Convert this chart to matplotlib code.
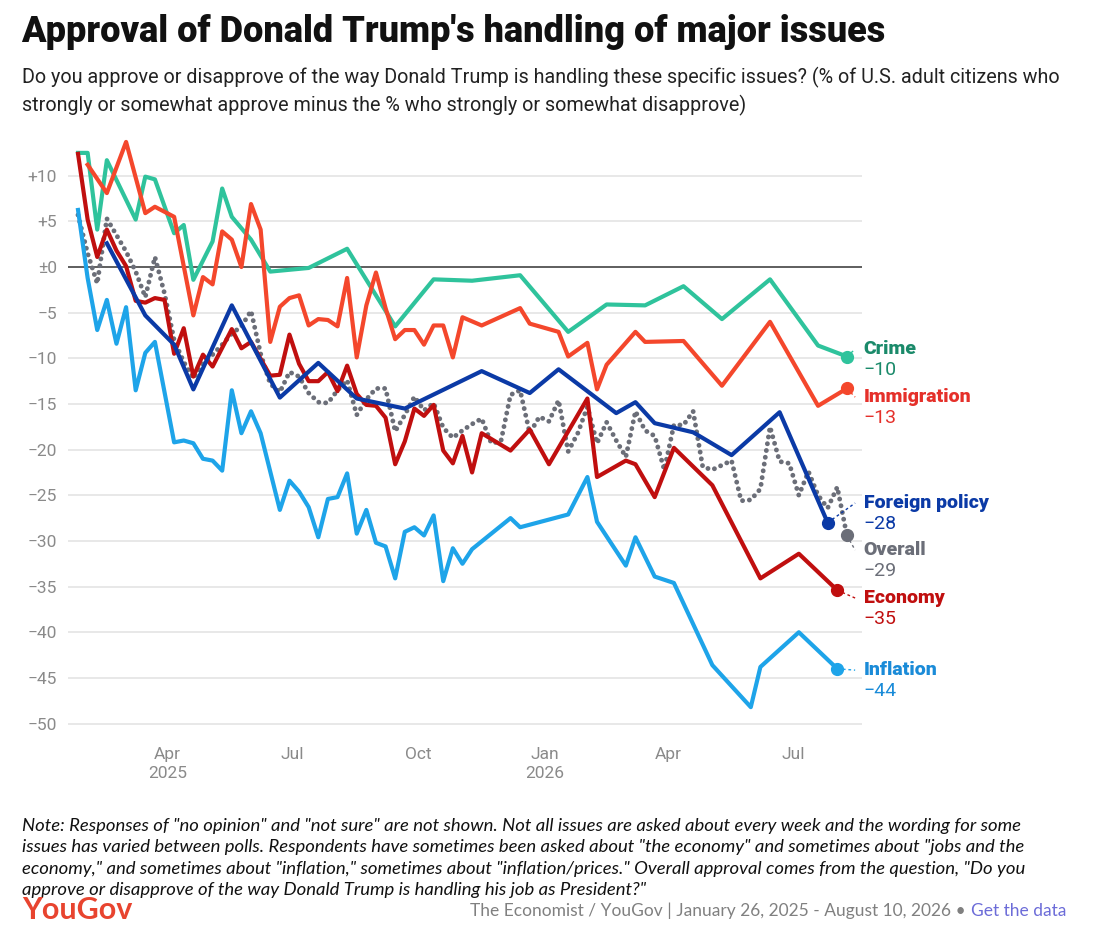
import numpy as np
import pandas as pd
import matplotlib
matplotlib.use("Agg")
import matplotlib.pyplot as plt
import matplotlib.transforms as mtransforms

plt.rcParams['font.family'] = ['Roboto', 'DejaVu Sans']

# weekly polls, week 0 = Jan 26 2025 (None = issue not asked that week)
start = "2025-01-26"
n_weeks = 81

crime = [12.5, 12.5, 4.1, 11.7, None, None, 5.2, 9.9, 9.6, None,
         3.7, 4.6, -1.4, None, 2.8, 8.6, 5.5, None, 3.0, None,
         -0.5, None, None, None, -0.1, None, None, None, 2.0, None,
         None, None, None, -6.5, None, None, None, -1.35, None, None,
         None, -1.5, None, None, None, None, -0.9, None, None, None,
         None, -7.1, None, None, None, -4.1, None, None, None, -4.2,
         None, None, None, -2.1, None, None, None, -5.7, None, None,
         None, None, -1.35, None, None, None, None, -8.6, None, None,
         -9.8]

immigration = [None, 11.2, None, 8.1, None, 13.7, None, 5.9, 6.6, None,
               5.5, None, -5.3, -1.1, -1.9, 3.9, 3.0, 0.0, 6.9, 4.1,
               -8.2, -4.35, -3.4, -3.1, -6.4, -5.7, -5.8, -6.5, -1.2, -9.9,
               -4.2, -0.6, -4.5, -7.9, -6.9, -6.9, -8.5, -6.4, -6.4, -9.9,
               -5.5, None, -6.4, None, None, None, -4.5, -6.2, None, None,
               -7.1, -9.8, None, -8.3, -13.4, -10.7, None, None, -7.1, -8.2,
               None, None, None, -8.1, None, None, None, -13.0, None, None,
               None, None, -6.0, None, None, None, None, -15.2, None, None,
               -13.3]

foreign_policy = [None, None, None, 2.6, None, None, None, -5.3, None, None,
                  -8.5, None, -13.4, None, None, None, -4.2, None, None, None,
                  None, -14.3, None, None, None, -10.5, None, None, None, -14.4,
                  None, None, None, None, -15.5, None, None, None, None, None,
                  None, None, -11.4, None, None, None, None, -13.8, None, None,
                  -11.2, None, None, None, None, None, -16.0, None, -14.8, None,
                  -17.1, None, None, None, -18.1, None, None, None, -20.6, None,
                  None, None, None, -15.9, None, None, None, None, -28.0, None,
                  None]

overall = [5.7, 1.5, -1.8, 5.3, 3.5, 1.7, -0.5, -3.3, 1.1, -2.9,
           -8.0, -10.4, -12.2, -10.6, -9.6, -8.5, -7.3, -6.5, -4.8, -9.5,
           -12.8, -13.7, -11.5, -12.0, -13.8, -14.8, -14.9, -13.5, -12.4, -16.2,
           -14.5, -13.3, -13.3, -18.0, -16.2, -14.2, -15.7, -14.9, -17.6, -18.7,
           -17.9, -17.2, -16.6, -19.3, -19.1, -14.0, -13.5, -18.2, -16.4, -16.9,
           -14.6, -20.2, -18.2, -15.3, -19.3, -17.0, -19.0, -20.8, -15.8, -17.9,
           -18.5, -22.2, -17.3, -17.3, -15.8, -21.9, -22.2, -21.7, -21.2, -25.6,
           -25.5, -24.3, -17.5, -21.3, -21.5, -25.0, -22.4, -25.0, -26.4, -24.1,
           -29.4]

economy = [12.4, 5.2, 1.1, 4.1, 1.8, 0.1, -3.7, -3.9, -3.4, -3.6,
           -9.5, -6.7, -12.0, -9.6, -10.9, None, -6.8, -8.9, -8.2, None,
           -11.9, -11.8, -7.4, -10.6, -12.5, -12.5, -11.5, -13.6, -10.8, -13.9,
           -15.1, -15.2, -16.5, -21.6, -19.1, -15.5, -16.3, -15.1, -20.1, -21.5,
           -18.5, -22.5, -18.2, None, None, -20.1, None, -17.8, None, -21.6,
           None, None, None, -14.4, -23.0, None, None, -21.2, -21.6, None,
           -25.2, None, -19.8, None, None, None, -23.9, None, None, None,
           None, -34.1, None, None, None, -31.4, None, None, None, -35.4,
           None]

inflation = [6.25, -1.2, -6.9, -3.6, -8.4, -4.4, -13.5, -9.4, -8.2, None,
             -19.2, -19.0, -19.3, -21.0, -21.2, -22.3, -13.5, -18.2, -15.8, -18.2,
             None, -26.6, -23.4, -24.6, -26.3, -29.6, -25.4, -25.2, -22.6, -29.2,
             -26.6, -30.2, -30.6, -34.1, -29.0, -28.5, -29.4, -27.2, -34.4, -30.8,
             -32.5, -30.9, None, None, None, -27.5, -28.5, None, None, None,
             None, -27.1, None, -23.0, -27.9, None, None, -32.7, -29.6, None,
             -33.9, None, -34.6, None, None, None, -43.6, None, None, None,
             -48.2, -43.8, None, None, None, -40.0, None, None, None, -44.0,
             None]

series_names = ["Crime", "Immigration", "Foreign policy", "Overall", "Economy", "Inflation"]
series_values = [crime, immigration, foreign_policy, overall, economy, inflation]
line_colors = ["#2fc39c", "#f4472c", "#0b3aa6", "#6b6e78", "#c00f0f", "#1ea4e9"]
label_colors = ["#1a8a6a", "#e5302a", "#0b3aa6", "#6b6e78", "#c00f0f", "#1a8bd8"]
label_y = [-9.0, -14.25, -25.85, -31.0, -36.25, -44.15]
draw_order = [3, 5, 0, 1, 4, 2]

tick_dates = ["2025-04-01", "2025-07-01", "2025-10-01", "2026-01-01", "2026-04-01", "2026-07-01"]
tick_labels = ["Apr\n2025", "Jul", "Oct", "Jan\n2026", "Apr", "Jul"]
y_ticks = [10, 5, 0, -5, -10, -15, -20, -25, -30, -35, -40, -45, -50]

title = "Approval of Donald Trump's handling of major issues"
subtitle = ("Do you approve or disapprove of the way Donald Trump is handling these specific issues? (% of U.S. adult citizens who\n"
            "strongly or somewhat approve minus the % who strongly or somewhat disapprove)")
note = ("Note: Responses of \"no opinion\" and \"not sure\" are not shown. Not all issues are asked about every week and the wording for some\n"
        "issues has varied between polls. Respondents have sometimes been asked about \"the economy\" and sometimes about \"jobs and the\n"
        "economy,\" and sometimes about \"inflation,\" sometimes about \"inflation/prices.\" Overall approval comes from the question, \"Do you\n"
        "approve or disapprove of the way Donald Trump is handling his job as President?\"")
source = "The Economist / YouGov | January 26, 2025 - August 10, 2026 \u2022 "


def fmt_num(v):
    if v > 0:
        return "+%d" % v
    if v == 0:
        return "\u00b10"
    return "\u2212%d" % abs(v)


def main():
    W, H = 1100, 951
    fig = plt.figure(figsize=(W / 100, H / 100), dpi=100)
    ax = fig.add_axes([68 / W, 1 - 740 / H, 794 / W, 605 / H])

    weeks = pd.date_range(start, periods=n_weeks, freq="7D")
    t0 = pd.Timestamp(start)
    ax.set_xlim(t0 - pd.Timedelta(days=7.3), t0 + pd.Timedelta(days=571))
    ax.set_ylim(-51.8, 14.46)

    for yt in y_ticks:
        if yt == 0:
            ax.axhline(0, color="#333333", lw=1.1, zorder=1)
        else:
            ax.axhline(yt, color="#e2e2e2", lw=1.1, zorder=0)

    lab_tr = mtransforms.blended_transform_factory(ax.transAxes, ax.transData)
    conn_x = t0 + pd.Timedelta(days=566)
    for i in draw_order:
        v = np.array(series_values[i], dtype=float)
        m = ~np.isnan(v)
        x = weeks[m]
        y = v[m]
        if series_names[i] == "Overall":
            ax.plot(x, y, color=line_colors[i], lw=3.5, ls=(0, (0.01, 1.4)),
                    dash_capstyle="round", zorder=2)
        else:
            ax.plot(x, y, color=line_colors[i], lw=3.0, solid_joinstyle="round", zorder=3)
        ax.plot([x[-1]], [y[-1]], "o", color=line_colors[i], ms=8.5, zorder=4)
        ax.plot([x[-1], conn_x], [y[-1], label_y[i]], color=line_colors[i], lw=1.0,
                ls=(0, (2, 2)), zorder=2, clip_on=False)

        ax.text(1.002, label_y[i], series_names[i], transform=lab_tr,
                color=label_colors[i], fontsize=14, fontweight="black", va="center", ha="left")
        ax.text(1.002, label_y[i] - 2.3, fmt_num(int(round(y[-1]))), transform=lab_tr,
                color=label_colors[i], fontsize=14, va="center", ha="left")

    ax.set_yticks(y_ticks)
    ax.set_yticklabels([fmt_num(t) for t in y_ticks])
    ax.set_xticks(pd.to_datetime(tick_dates))
    ax.set_xticklabels(tick_labels, linespacing=1.35)
    ax.tick_params(axis="both", length=0, colors="#8a8a8a", labelsize=12.5)
    ax.tick_params(axis="y", pad=8)
    ax.tick_params(axis="x", pad=5)
    for s in ax.spines.values():
        s.set_visible(False)

    fig.text(21 / W, 1 - 32 / H, title, fontsize=26, fontweight="black", color="#111111",
             va="center", ha="left")
    fig.text(22 / W, 1 - 91.5 / H, subtitle, fontsize=14.2, color="#222222", va="center",
             ha="left", linespacing=1.4)
    fig.text(22 / W, 1 - 858 / H, note, fontsize=13.3, style="italic", color="#111111",
             va="center", ha="left", linespacing=1.42, family=['Lato', 'DejaVu Sans'])
    fig.text(22 / W, 1 - 910 / H, "YouGov", fontsize=22, fontweight="bold", color="#e8442f",
             va="center", ha="left", family=['Lato', 'DejaVu Sans'])
    t = fig.text(1066 / W, 1 - 911 / H, "Get the data", fontsize=12.5, color="#6c6cd8",
                 va="center", ha="right", family=['Lato', 'DejaVu Sans'])
    fig.canvas.draw()
    bb = t.get_window_extent()
    fig.text(bb.x0 / W, 1 - 911 / H, source, fontsize=12.5, color="#808080",
             va="center", ha="right", family=['Lato', 'DejaVu Sans'])

    fig.savefig("out.png", dpi=100)


if __name__ == '__main__':
    main()
